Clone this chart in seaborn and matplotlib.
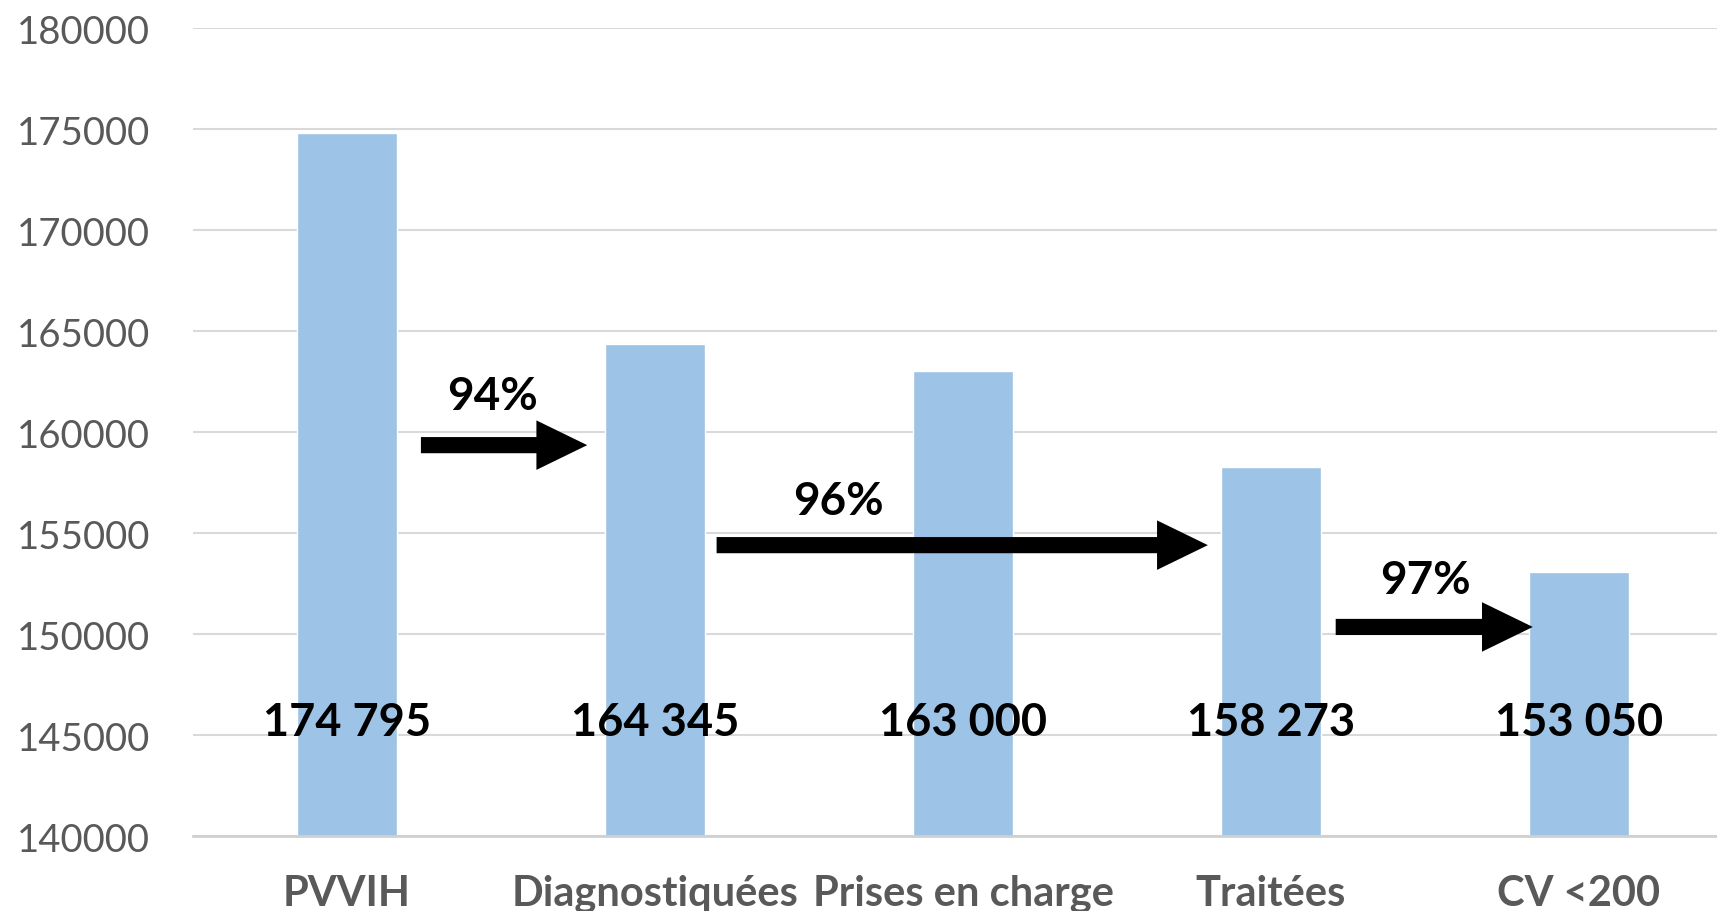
import matplotlib
matplotlib.use('Agg')
import matplotlib.pyplot as plt
import seaborn as sns

# données de la cascade
categories = ['PVVIH', 'Diagnostiquées', 'Prises en charge', 'Traitées', 'CV <200']
values = [174795, 164345, 163000, 158273, 153050]
value_labels = ['174 795', '164 345', '163 000', '158 273', '153 050']
yticks = [140000, 145000, 150000, 155000, 160000, 165000, 170000, 175000, 180000]

# flèches : pourcentage, début, fin, hauteur ; position du texte
pct_labels = ['94%', '96%', '97%']
arrow_start = [0.24, 1.20, 3.21]
arrow_end = [0.78, 2.795, 3.85]
arrow_y = [159350, 154400, 150350]
pct_x = [0.474, 1.594, 3.50]
pct_y = [161780, 156600, 152670]

sns.set_style('white')
plt.rcParams['font.family'] = ['Lato', 'DejaVu Sans']

fig = plt.figure(figsize=(17.17, 9.12), dpi=100)
ax = fig.add_axes([0.1124, 0.0822, 0.8876, 0.8860])

sns.barplot(x=categories, y=values, color='#9dc3e6', width=0.325,
            saturation=1, ax=ax)

ax.set_ylim(140000, 180000)
ax.set_xlim(-0.5, 4.448)
ax.set_yticks(yticks)
ax.set_yticklabels([str(v) for v in yticks])
ax.yaxis.grid(True, color='#d9d9d9', linewidth=1.5)
ax.set_axisbelow(True)
for s in ['top', 'right', 'left']:
    ax.spines[s].set_visible(False)
ax.spines['bottom'].set_color('#d0d0d0')
ax.spines['bottom'].set_linewidth(2)
ax.tick_params(axis='y', length=0, pad=31, labelsize=27.5, labelcolor='#595959')
ax.tick_params(axis='x', length=0, pad=27, labelsize=30, labelcolor='#595959')
for lab in ax.get_xticklabels():
    lab.set_fontweight('bold')
ax.set_xlabel('')
ax.set_ylabel('')

# valeurs sur les barres
for i, txt in enumerate(value_labels):
    ax.text(i, 145630, txt, ha='center', va='center', fontsize=32.5,
            fontweight='bold', color='black')

# flèches et pourcentages
for x0, x1, y in zip(arrow_start, arrow_end, arrow_y):
    ax.arrow(x0, y, x1 - x0, 0, width=800, head_width=2450, head_length=0.165,
             length_includes_head=True, color='black', lw=0)
for txt, x, y in zip(pct_labels, pct_x, pct_y):
    ax.text(x, y, txt, ha='center', va='center', fontsize=33,
            fontweight='bold', color='black')

fig.savefig('out.png', dpi=100)
